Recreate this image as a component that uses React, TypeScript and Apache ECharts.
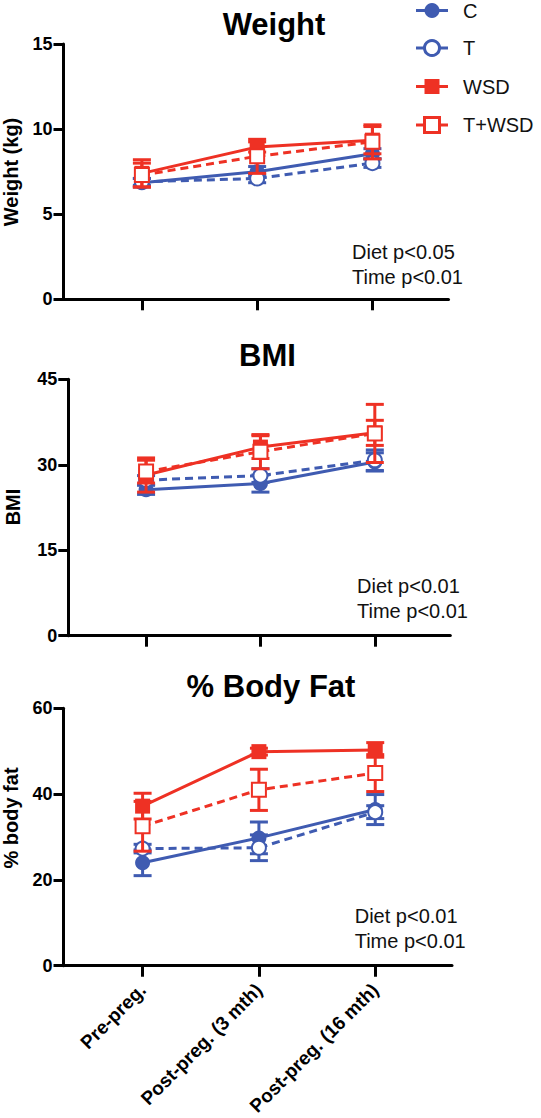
import React, { useEffect, useRef } from "react";
import * as echarts from "echarts";

const FONT = '"Liberation Sans", Arial, Helvetica, sans-serif';
const BLUE = "#3F5BB1";
const RED = "#EE3124";

const categories = ["Pre-preg.", "Post-preg. (3 mth)", "Post-preg. (16 mth)"];
const groups = ["C", "T", "WSD", "T+WSD"];

// Weight (kg)
const weightC = [6.85, 7.5, 8.55];
const weightCErr = [0.25, 0.3, 0.3];
const weightT = [6.9, 7.1, 8.0];
const weightTErr = [0.2, 0.25, 0.25];
const weightWSD = [7.4, 8.95, 9.35];
const weightWSDErr = [0.8, 0.3, 0.8];
const weightTWSD = [7.3, 8.4, 9.25];
const weightTWSDErr = [0.7, 1.0, 1.0];
const weightTicks = { max: 15, interval: 5 };
const weightStats = ["Diet p<0.05", "Time p<0.01"];

// BMI
const bmiC = [25.6, 26.7, 30.5];
const bmiCErr = [0.8, 1.5, 1.6];
const bmiT = [27.3, 28.1, 30.8];
const bmiTErr = [0.8, 1.2, 1.8];
const bmiWSD = [28.2, 33.1, 35.6];
const bmiWSDErr = [3.0, 2.0, 2.2];
const bmiTWSD = [28.8, 32.3, 35.5];
const bmiTWSDErr = [2.0, 3.0, 5.1];
const bmiTicks = { max: 45, interval: 15 };
const bmiStats = ["Diet p<0.01", "Time p<0.01"];

// % body fat
const fatC = [24.0, 29.8, 36.4];
const fatCErr = [3.0, 3.7, 3.5];
const fatT = [27.3, 27.5, 35.8];
const fatTErr = [1.0, 3.0, 1.5];
const fatWSD = [37.2, 49.9, 50.3];
const fatWSDErr = [3.0, 0.8, 1.7];
const fatTWSD = [32.5, 41.0, 44.9];
const fatTWSDErr = [5.8, 4.8, 4.3];
const fatTicks = { max: 60, interval: 20 };
const fatStats = ["Diet p<0.01", "Time p<0.01"];

const groupStyle = [
  { color: BLUE, symbol: "circle", size: 15, dashed: false, empty: false, z: 3 },
  { color: BLUE, symbol: "emptyCircle", size: 14, dashed: true, empty: true, z: 3 },
  { color: RED, symbol: "rect", size: 15, dashed: false, empty: false, z: 5 },
  { color: RED, symbol: "emptyRect", size: 14, dashed: true, empty: true, z: 5 },
];

function buildOption() {
  const panels = [
    {
      title: "Weight",
      yName: "Weight (kg)",
      ticks: weightTicks,
      grid: { left: 63.5, top: 44, width: 385, height: 255.3 },
      values: [weightC, weightT, weightWSD, weightTWSD],
      errs: [weightCErr, weightTErr, weightWSDErr, weightTWSDErr],
      stats: weightStats,
      titlePos: [274, 24],
      yNamePos: [11, 172],
      statsPos: [352, 252],
      showLabels: false,
    },
    {
      title: "BMI",
      yName: "BMI",
      ticks: bmiTicks,
      grid: { left: 68.3, top: 379.3, width: 382, height: 256.4 },
      values: [bmiC, bmiT, bmiWSD, bmiTWSD],
      errs: [bmiCErr, bmiTErr, bmiWSDErr, bmiTWSDErr],
      stats: bmiStats,
      titlePos: [267.5, 355.5],
      yNamePos: [12.5, 507],
      statsPos: [357, 586],
      showLabels: false,
    },
    {
      title: "% Body Fat",
      yName: "% body fat",
      ticks: fatTicks,
      grid: { left: 63.5, top: 708.3, width: 388.5, height: 258.4 },
      values: [fatC, fatT, fatWSD, fatTWSD],
      errs: [fatCErr, fatTErr, fatWSDErr, fatTWSDErr],
      stats: fatStats,
      titlePos: [271, 686],
      yNamePos: [11, 818],
      statsPos: [354.7, 916],
      showLabels: true,
    },
  ];

  const grid: any[] = [];
  const xAxis: any[] = [];
  const yAxis: any[] = [];
  const series: any[] = [];
  const graphic: any[] = [];

  panels.forEach((p, i) => {
    grid.push({ ...p.grid, containLabel: false });
    xAxis.push({
      type: "value",
      gridIndex: i,
      min: -0.68,
      max: 2.66,
      splitLine: { show: false },
      axisLine: { show: true, onZero: false, lineStyle: { color: "#000", width: 3 } },
      axisTick: {
        show: true,
        customValues: [0, 1, 2],
        length: 11,
        lineStyle: { color: "#000", width: 3 },
      },
      axisLabel: {
        show: p.showLabels,
        customValues: [0, 1, 2],
        formatter: (v: number) => categories[Math.round(v)] ?? "",
        rotate: 45,
        margin: 21,
        fontFamily: FONT,
        fontWeight: "bold",
        fontSize: 19,
        color: "#000",
      },
    });
    yAxis.push({
      type: "value",
      gridIndex: i,
      min: 0,
      max: p.ticks.max,
      interval: p.ticks.interval,
      splitLine: { show: false },
      axisLine: { show: true, onZero: false, lineStyle: { color: "#000", width: 3 } },
      axisTick: { show: true, inside: false, length: 10, lineStyle: { color: "#000", width: 3 } },
      axisLabel: {
        margin: 11,
        fontFamily: FONT,
        fontWeight: "bold",
        fontSize: 18,
        color: "#000",
      },
    });

    groups.forEach((g, gi) => {
      const st = groupStyle[gi];
      const vals = p.values[gi];
      const errs = p.errs[gi];
      series.push({
        type: "custom",
        name: g + " error",
        xAxisIndex: i,
        yAxisIndex: i,
        z: st.z,
        silent: true,
        encode: { x: 0, y: [1, 2] },
        data: vals.map((v, k) => [k, v - errs[k], v + errs[k]]),
        renderItem: (_params: any, api: any) => {
          const x = api.value(0);
          const lo = api.coord([x, api.value(1)]);
          const hi = api.coord([x, api.value(2)]);
          const hw = 9;
          const style = { stroke: st.color, lineWidth: 3 };
          return {
            type: "group",
            children: [
              { type: "line", shape: { x1: lo[0], y1: lo[1], x2: hi[0], y2: hi[1] }, style },
              { type: "line", shape: { x1: lo[0] - hw, y1: lo[1], x2: lo[0] + hw, y2: lo[1] }, style },
              { type: "line", shape: { x1: hi[0] - hw, y1: hi[1], x2: hi[0] + hw, y2: hi[1] }, style },
            ],
          };
        },
      });
      series.push({
        type: "line",
        name: g,
        xAxisIndex: i,
        yAxisIndex: i,
        z: st.z + 1,
        silent: true,
        data: vals.map((v, k) => [k, v]),
        symbol: st.symbol,
        symbolSize: st.size,
        showAllSymbol: true,
        itemStyle: { color: st.color, borderWidth: st.empty ? 3 : 0 },
        lineStyle: { color: st.color, width: 3, type: st.dashed ? [8, 5] : "solid" },
      });
    });

    graphic.push({
      type: "text",
      x: p.titlePos[0],
      y: p.titlePos[1],
      style: {
        text: p.title,
        fontFamily: FONT,
        fontWeight: "bold",
        fontSize: 31,
        fill: "#000",
        textAlign: "center",
        textVerticalAlign: "middle",
      },
    });
    graphic.push({
      type: "text",
      x: p.yNamePos[0],
      y: p.yNamePos[1],
      rotation: Math.PI / 2,
      style: {
        text: p.yName,
        fontFamily: FONT,
        fontWeight: "bold",
        fontSize: 20,
        fill: "#000",
        textAlign: "center",
        textVerticalAlign: "middle",
      },
    });
    p.stats.forEach((s, si) => {
      graphic.push({
        type: "text",
        x: p.statsPos[0],
        y: p.statsPos[1] + si * 25,
        style: {
          text: s,
          fontFamily: FONT,
          fontSize: 20,
          fill: "#111",
          textAlign: "left",
          textVerticalAlign: "middle",
        },
      });
    });
  });

  // legend
  const legendY = [10.5, 48, 86.5, 125];
  groups.forEach((g, gi) => {
    const st = groupStyle[gi];
    const y = legendY[gi];
    const cx = 432;
    graphic.push({
      type: "line",
      shape: { x1: 416, y1: y, x2: 448, y2: y },
      style: { stroke: st.color, lineWidth: 3 },
    });
    const markerStyle = {
      fill: st.empty ? "#fff" : st.color,
      stroke: st.color,
      lineWidth: st.empty ? 3 : 0,
    };
    if (st.symbol.toLowerCase().includes("circle")) {
      graphic.push({ type: "circle", shape: { cx, cy: y, r: 7.5 }, style: markerStyle });
    } else {
      graphic.push({ type: "rect", shape: { x: cx - 7.5, y: y - 7.5, width: 15, height: 15 }, style: markerStyle });
    }
    graphic.push({
      type: "text",
      x: 463,
      y,
      style: {
        text: g,
        fontFamily: FONT,
        fontSize: 20,
        fill: "#111",
        textAlign: "left",
        textVerticalAlign: "middle",
      },
    });
  });

  return {
    animation: false,
    backgroundColor: "#fff",
    grid,
    xAxis,
    yAxis,
    series,
    graphic,
  };
}

export default function App() {
  const ref = useRef<HTMLDivElement>(null);
  useEffect(() => {
    if (!ref.current) return;
    const chart = echarts.init(ref.current, null, { renderer: "svg" });
    chart.setOption(buildOption() as any);
    return () => chart.dispose();
  }, []);
  return (
    <div
      ref={ref}
      style={{ position: "fixed", left: 0, top: 0, width: 541, height: 1118, background: "#fff" }}
    />
  );
}
